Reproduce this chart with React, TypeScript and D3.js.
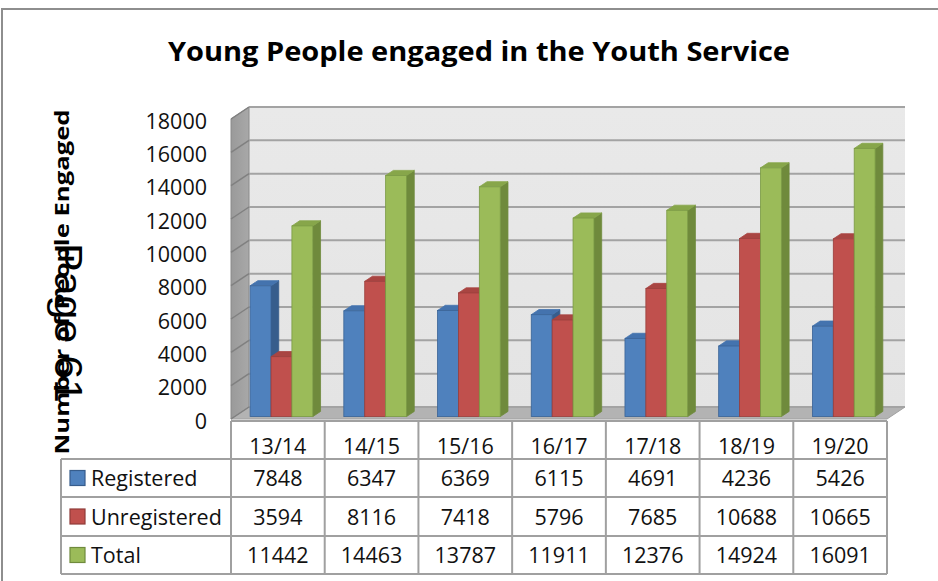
import React from "react";
import * as d3 from "d3";

const categories = ["13/14", "14/15", "15/16", "16/17", "17/18", "18/19", "19/20"];
const registered = [7848, 6347, 6369, 6115, 4691, 4236, 5426];
const unregistered = [3594, 8116, 7418, 5796, 7685, 10688, 10665];
const total = [11442, 14463, 13787, 11911, 12376, 14924, 16091];
const seriesNames = ["Registered", "Unregistered", "Total"];
const yTicks = [0, 2000, 4000, 6000, 8000, 10000, 12000, 14000, 16000, 18000];
const titleText = "Young People engaged in the Youth Service";
const yTitle = "Number of People Engaged";
const overlayText = "Page 61";

const seriesValues = [registered, unregistered, total];
const colors = [
  { front: "#4f81bd", side: "#375d8c", top: "#4473ae", stroke: "#3a6396" },
  { front: "#c0504d", side: "#8f3b39", top: "#a94542", stroke: "#9a3f3c" },
  { front: "#9bbb59", side: "#6f8a3c", top: "#87a64a", stroke: "#7a9a44" },
];

export default function App() {
  const left = 231;
  const right = 887;
  const frontY0 = 419;
  const DX = 18;
  const DY = 12;
  const d0 = 0.2;
  const d1 = 0.63;

  const x = d3.scaleBand<string>().domain(categories).range([left, right]).padding(0);
  const bw = x.bandwidth();
  const xs = d3.scaleBand<string>().domain(seriesNames).range([0, bw]).paddingInner(0).paddingOuter(0.742);
  const h = d3.scaleLinear().domain([0, 18000]).range([0, 300]);

  const fy = (v: number, d: number) => frontY0 - d * DY - h(v);
  const fx = (px: number, d: number) => px + d * DX;

  const backLeft = left + DX;
  const backRight = right + DX;

  const bars: JSX.Element[] = [];
  categories.forEach((c, ci) => {
    seriesNames.forEach((s, si) => {
      const v = seriesValues[si][ci];
      const x0 = fx((x(c) as number) + (xs(s) as number), d0);
      const x1 = x0 + xs.bandwidth();
      const yb = fy(0, d0);
      const yt = fy(v, d0);
      const ddx = (d1 - d0) * DX;
      const ddy = (d1 - d0) * DY;
      const col = colors[si];
      bars.push(
        <g key={`${ci}-${si}`}>
          <polygon
            points={`${x1},${yb} ${x1 + ddx},${yb - ddy} ${x1 + ddx},${yt - ddy} ${x1},${yt}`}
            fill={col.side}
            stroke={col.side}
            strokeWidth={0.8}
          />
          <polygon
            points={`${x0},${yt} ${x1},${yt} ${x1 + ddx},${yt - ddy} ${x0 + ddx},${yt - ddy}`}
            fill={col.top}
            stroke={col.top}
            strokeWidth={0.8}
          />
          <rect x={x0} y={yt} width={x1 - x0} height={yb - yt} fill={col.front} stroke={col.stroke} strokeWidth={0.8} />
        </g>
      );
    });
  });

  const rowTops = [421, 459, 497, 536, 574];
  const gridColor = "#a3a3a3";
  const tableColor = "#a0a0a0";

  return (
    <svg
      width={938}
      height={581}
      style={{ position: "absolute", left: 0, top: 0, background: "#fff" }}
      fontFamily="'Open Sans', sans-serif"
    >
      <defs>
        <linearGradient id="sideWall" x1="0" y1="0" x2="1" y2="0">
          <stop offset="0" stopColor="#9a9a9a" />
          <stop offset="1" stopColor="#a8a8a8" />
        </linearGradient>
        <linearGradient id="backWall" x1="0" y1="0" x2="0" y2="1">
          <stop offset="0" stopColor="#e9e9e9" />
          <stop offset="1" stopColor="#e4e4e4" />
        </linearGradient>
      </defs>
      <rect x={2} y={9} width={1000} height={640} fill="#fff" stroke="#8e8e8e" strokeWidth={2} />

      <text
        x={479}
        y={61}
        textAnchor="middle"
        fontSize={26}
        fontWeight="bold"
        textLength={622}
        lengthAdjust="spacingAndGlyphs"
        fill="#000"
      >
        {titleText}
      </text>

      {/* back wall */}
      <rect x={backLeft} y={fy(18000, 1)} width={backRight - backLeft} height={h(18000)} fill="url(#backWall)" />
      {/* side wall */}
      <polygon
        points={`${left},${fy(18000, 0)} ${backLeft},${fy(18000, 1)} ${backLeft},${fy(0, 1)} ${left},${fy(0, 0)}`}
        fill="url(#sideWall)"
        stroke="#8a8a8a"
        strokeWidth={1}
      />
      {/* floor */}
      <polygon
        points={`${left},${fy(0, 0)} ${backLeft},${fy(0, 1)} ${backRight},${fy(0, 1)} ${right},${fy(0, 0)}`}
        fill="#b3b3b3"
        stroke="#a0a0a0"
        strokeWidth={1}
      />
      {/* gridlines */}
      {yTicks.map((t) => (
        <g key={`g${t}`}>
          <line x1={backLeft} x2={backRight} y1={fy(t, 1)} y2={fy(t, 1)} stroke={gridColor} strokeWidth={2} />
          <line x1={left} x2={backLeft} y1={fy(t, 0)} y2={fy(t, 1)} stroke="#808080" strokeWidth={1.5} />
        </g>
      ))}

      {bars}

      {/* tick labels */}
      {yTicks.map((t) => (
        <text key={`t${t}`} x={207} y={fy(t, 0) + 9.5} textAnchor="end" fontSize={21.5} fill="#111">
          {t}
        </text>
      ))}

      {/* y axis title */}
      <text
        transform={`translate(69,282) rotate(-90)`}
        textAnchor="middle"
        fontSize={20}
        fontWeight="bold"
        textLength={345}
        lengthAdjust="spacingAndGlyphs"
        fill="#000"
      >
        {yTitle}
      </text>

      {/* table */}
      <g stroke={tableColor} strokeWidth={2}>
        <line x1={left} x2={right} y1={rowTops[0]} y2={rowTops[0]} />
        {rowTops.slice(1).map((ry) => (
          <line key={`h${ry}`} x1={61} x2={right} y1={ry} y2={ry} />
        ))}
        <line x1={61} x2={61} y1={rowTops[1]} y2={rowTops[4]} />
        {categories.map((c) => (
          <line key={`v${c}`} x1={x(c) as number} x2={x(c) as number} y1={rowTops[0]} y2={rowTops[4]} />
        ))}
        <line x1={right} x2={right} y1={rowTops[0]} y2={rowTops[4]} />
      </g>
      {categories.map((c) => (
        <text key={`c${c}`} x={(x(c) as number) + bw / 2} y={453.5} textAnchor="middle" fontSize={21.5} fill="#111">
          {c}
        </text>
      ))}
      {seriesNames.map((s, si) => {
        const baseY = [486, 525, 563][si];
        const cy = (rowTops[si + 1] + rowTops[si + 2]) / 2;
        return (
          <g key={`r${s}`}>
            <rect x={70} y={cy - 7.5} width={15} height={15} fill={colors[si].front} stroke={colors[si].side} strokeWidth={1.2} />
            <text x={91} y={baseY} fontSize={21.5} fill="#111">
              {s}
            </text>
            {categories.map((c, ci) => (
              <text key={`d${c}`} x={(x(c) as number) + bw / 2} y={baseY} textAnchor="middle" fontSize={21.5} fill="#111">
                {seriesValues[si][ci]}
              </text>
            ))}
          </g>
        );
      })}

      {/* overlay page text */}
      <text
        transform={`translate(55,243) rotate(90)`}
        fontSize={38}
        fontFamily="'Liberation Sans', Arial, sans-serif"
        textLength={160}
        lengthAdjust="spacingAndGlyphs"
        fill="#000"
      >
        {overlayText}
      </text>
    </svg>
  );
}
